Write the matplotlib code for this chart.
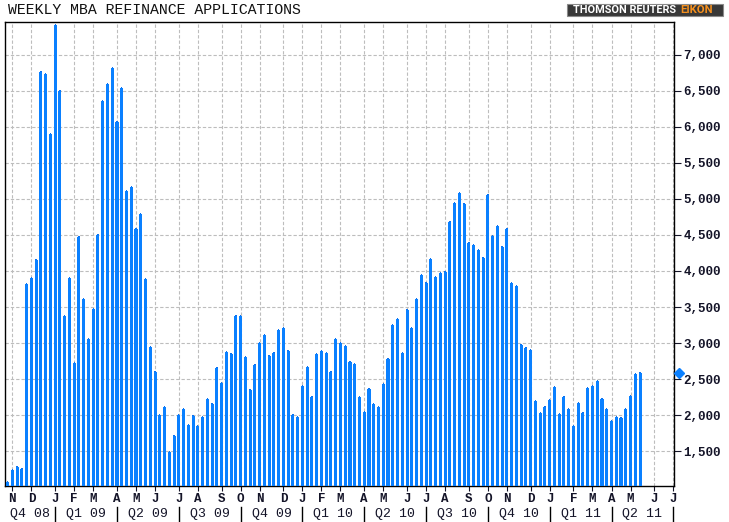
import matplotlib
matplotlib.use("Agg")
import matplotlib.pyplot as plt
import matplotlib.transforms as mtransforms
from matplotlib.patches import Rectangle
from matplotlib.ticker import FuncFormatter
import pandas as pd

title = "WEEKLY MBA REFINANCE APPLICATIONS"
first_week = "2008-10-27"
refi_index = [
    1074, 1236, 1282, 1255, 3815, 3907, 4157, 6769, 6741, 5907,
    7421, 6505, 3380, 3907, 2727, 4477, 3616, 3060, 3477, 4505,
    6366, 6602, 6824, 6074, 6546, 5116, 5171, 4588, 4796, 3893,
    2949, 2602, 2005, 2116, 1481, 1713, 2005, 2088, 1866, 1991,
    1852, 1977, 2227, 2158, 2658, 2449, 2880, 2852, 3380, 3380,
    2810, 2352, 2699, 3005, 3116, 2824, 2866, 3185, 3213, 2894,
    2005, 1977, 2407, 2671, 2255, 2852, 2894, 2866, 2602, 3060,
    3005, 2963, 2741, 2713, 2255, 2046, 2366, 2158, 2116, 2435,
    2782, 3255, 3338, 2866, 3463, 3213, 3616, 3949, 3838, 4171,
    3921, 3977, 3991, 4685, 4949, 5088, 4935, 4393, 4365, 4296,
    4185, 5060, 4491, 4629, 4338, 4588, 3838, 3796, 2977, 2935,
    2907, 2199, 2032, 2116, 2213, 2393, 2018, 2255, 2088, 1852,
    2171, 2032, 2380, 2407, 2477, 2227, 2088, 1921, 1977, 1963,
    2088, 2268, 2574, 2588,
]
y_ticks = [1500, 2000, 2500, 3000, 3500, 4000, 4500, 5000, 5500, 6000, 6500, 7000]

BLUE = "#0A80FF"
GRID = "#BDBDBD"
TXT = "#141428"

n = len(refi_index)
axis_weeks = 141  # weekly slots shown on the axis (data + future)
dates = pd.date_range(first_week, periods=axis_weeks, freq="7D")
xpos = list(range(n))

fig = plt.figure(figsize=(7.29, 5.22), dpi=100)
W, H = 729.0, 522.0
ax_l, ax_r, ax_t, ax_b = 5.0, 673.8, 22.3, 486.0
ax = fig.add_axes([ax_l / W, (H - ax_b) / H, (ax_r - ax_l) / W, (ax_b - ax_t) / H])

ax.bar(xpos, refi_index, width=0.64, color=BLUE, linewidth=0, zorder=3)
# small nub on top of each bar
ax.bar(xpos, [14] * n, bottom=refi_index, width=0.28, color="#0A70F0",
       linewidth=0, zorder=3)

ax.set_xlim(-0.55, 140.1)
ax.set_ylim(1014, 7454)

# month ticks at first weekly slot of each month
month_idx = [i for i in range(1, axis_weeks) if dates[i].month != dates[i - 1].month]
month_lbl = [dates[i].strftime("%b")[0] for i in month_idx]
ax.set_xticks(month_idx)
ax.set_xticklabels(month_lbl, fontfamily="Liberation Mono", fontweight="bold",
                   fontsize=9, color=TXT)
ax.tick_params(axis="x", direction="out", length=3.5, width=0.8, pad=1.5, color=TXT)

ax.yaxis.tick_right()
ax.set_yticks(y_ticks)
ax.yaxis.set_major_formatter(FuncFormatter(lambda v, p: f"{int(v):,}"))
for lab in ax.get_yticklabels():
    lab.set_fontfamily("Liberation Mono")
    lab.set_fontweight("bold")
    lab.set_fontsize(9)
    lab.set_color(TXT)
ax.tick_params(axis="y", direction="out", length=4.8, width=0.8, pad=2, color=TXT)

ax.grid(True, color=GRID, linestyle=(0, (3, 1.8)), linewidth=0.8, zorder=0)
for s in ax.spines.values():
    s.set_color("black")
    s.set_linewidth(1.0)

# last value marker
ax.plot([141.1], [refi_index[-1]], marker="D", markersize=5.5, color=BLUE,
        clip_on=False, zorder=5)

# quarter row
trans = mtransforms.blended_transform_factory(ax.transData, ax.transAxes)
ah = ax_b - ax_t
y_sep0 = (ax_b - 507) / ah
y_sep1 = (ax_b - 522) / ah
y_q = (ax_b - 514) / ah
q_idx = [i for i in month_idx if dates[i].month in (1, 4, 7, 10)]
for i in q_idx:
    ax.plot([i, i], [y_sep0, y_sep1], color="black", lw=1.0, transform=trans,
            clip_on=False)
bounds = [-0.55] + q_idx
for k in range(len(bounds) - 1):
    a, b = bounds[k], bounds[k + 1]
    d = dates[0] if k == 0 else dates[int(a)]
    q = (d.month - 1) // 3 + 1
    ax.text((a + b) / 2, y_q, f"Q{q} {d.strftime('%y')}", transform=trans,
            ha="center", va="center", fontfamily="Liberation Mono", fontsize=9.5,
            color=TXT)

# title
fig.text(8 / W, 1 - 10 / H, title, ha="left", va="center",
         fontfamily="Liberation Mono", fontsize=10.7, color="#111111")

# logo
fig.patches.append(Rectangle((567 / W, 1 - 15.5 / H), 156 / W, 11.5 / H,
                             transform=fig.transFigure, facecolor="#383838",
                             edgecolor="#8A8A8A", linewidth=0.8))
fig.text(573 / W, 1 - 9.8 / H, "THOMSON REUTERS", ha="left", va="center",
         fontfamily="Roboto", fontweight="bold", fontsize=7.8, color="white")
fig.text(680 / W, 1 - 9.8 / H, "EIKON", ha="left", va="center",
         fontfamily="Roboto", fontweight="bold", fontsize=8.2, color="#F5901E")

fig.savefig("out.png", dpi=100)
